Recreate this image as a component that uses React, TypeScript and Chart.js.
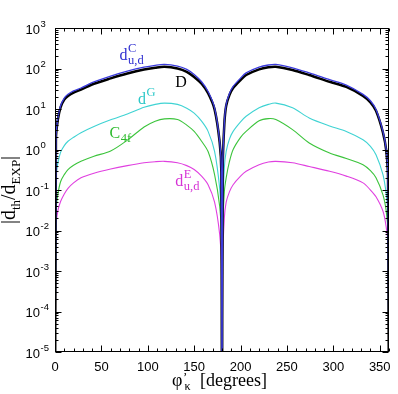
import { useEffect, useRef } from 'react';
import { Chart, registerables } from 'chart.js';

Chart.register(...registerables);

// --- data ---
const BELOW = 1e-9; // curves vanish at 0, 180 and 360 degrees

const angles = [0, 1, 3, 6, 10, 14, 20, 28, 42, 60, 78, 96, 108, 118, 132, 142, 150, 158, 165, 172, 177.5, 179.3, 180, 180.7, 182.5, 184.5, 188, 192, 200, 206, 220, 230, 238, 256, 274, 296, 314, 332, 340, 346, 353.5, 357, 359, 360];

const dCud = [BELOW, 2.0, 5.8, 12, 18.5, 23, 28, 33, 47, 65, 86, 108, 120, 126, 114, 95, 71, 47, 27, 10.7, 1.6, 0.3, BELOW, 0.3, 4.5, 13, 24, 36, 58, 78, 108, 122, 126, 104, 78, 53, 39, 23, 16, 9.7, 2.8, 1.0, 0.2, BELOW];
const Dtot = [BELOW, 1.85, 5.3, 11, 17, 21, 25.5, 30, 42, 57, 75, 94, 104, 110, 100, 83, 62, 42, 24.5, 9.8, 1.5, 0.28, BELOW, 0.28, 4.2, 12, 22, 33, 52, 69, 95, 107, 110, 92, 69, 47, 35, 21, 14.5, 9, 2.6, 0.95, 0.19, BELOW];
const dG = [BELOW, 0.2, 0.45, 0.85, 1.25, 1.6, 2.0, 2.6, 3.7, 5.4, 7.5, 11, 13, 14, 13, 10.5, 7.9, 5, 2.8, 0.9, 0.11, 0.02, BELOW, 0.02, 0.35, 0.9, 1.8, 2.8, 4.8, 6.6, 10.7, 13, 14, 10.7, 6.0, 3.8, 2.8, 1.74, 1.2, 0.74, 0.24, 0.08, 0.025, BELOW];
const C4f = [BELOW, 0.03, 0.076, 0.16, 0.24, 0.32, 0.41, 0.51, 0.68, 0.92, 1.7, 3.6, 5.0, 5.7, 5.5, 4.0, 2.8, 1.6, 0.89, 0.24, 0.04, 0.008, BELOW, 0.008, 0.09, 0.2, 0.5, 1.0, 2.0, 2.8, 5.1, 5.8, 5.5, 3.1, 1.45, 0.82, 0.6, 0.42, 0.3, 0.2, 0.076, 0.03, 0.008, BELOW];
const dEud = [BELOW, 0.012, 0.03, 0.052, 0.08, 0.11, 0.15, 0.2, 0.26, 0.33, 0.40, 0.47, 0.5, 0.51, 0.47, 0.4, 0.32, 0.22, 0.135, 0.05, 0.008, 0.0015, BELOW, 0.0015, 0.02, 0.05, 0.09, 0.135, 0.22, 0.29, 0.42, 0.49, 0.51, 0.47, 0.38, 0.29, 0.22, 0.15, 0.1, 0.068, 0.03, 0.012, 0.004, BELOW];

const xMajorTicks = [0, 50, 100, 150, 200, 250, 300, 350];
const xTickLabels = ['0', '50', '100', '150', '200', '250', '300', '350'];
const xMinorStep = 10;
const yExponents = [-5, -4, -3, -2, -1, 0, 1, 2, 3];
const yTickLabels = ['-5', '-4', '-3', '-2', '-1', '0', '1', '2', '3'];

// colours
const BLUE = '#3b3bdc';
const BLACK = '#000000';
const CYAN = '#3fd3d3';
const GREEN = '#3cc43c';
const MAGENTA = '#e040e0';

// in-plot labels: [main, sup, sub, angle, value, colour]
const curveLabels: [string, string, string, number, number, string][] = [
  ['d', 'C', 'u,d', 69.6, 158, '#2f2fd0'],
  ['D', '', '', 129.7, 35.6, '#000000'],
  ['d', 'G', '', 89.4, 13.1, '#2cc8c8'],
  ['C', '', '4f', 58.8, 1.89, '#2dbb2d'],
  ['d', 'E', 'u,d', 129.7, 0.128, '#d633d6'],
];

const SANS = '"Liberation Sans", Arial, sans-serif';
const SERIF = '"Liberation Serif", "Times New Roman", serif';

const framePlugin = {
  id: 'frameTicks',
  afterDatasetsDraw(chart: any) {
    const { ctx, chartArea: a, scales } = chart;
    const xs = scales.x;
    const ys = scales.y;
    ctx.save();
    ctx.strokeStyle = '#000';
    ctx.lineWidth = 1;
    const L = Math.round(a.left) + 0.5;
    const R = Math.round(a.right) - 0.5;
    const T = Math.round(a.top) + 0.5;
    const B = Math.round(a.bottom) - 0.5;
    ctx.strokeRect(L, T, R - L, B - T);

    ctx.beginPath();
    // x ticks (bottom and top, inward)
    for (let v = 0; v <= 360; v += xMinorStep) {
      const px = Math.round(xs.getPixelForValue(v)) + 0.5;
      const major = xMajorTicks.includes(v);
      const len = major ? 6 : 3;
      ctx.moveTo(px, B);
      ctx.lineTo(px, B - len);
      ctx.moveTo(px, T);
      ctx.lineTo(px, T + len);
    }
    // y ticks (left and right, inward)
    for (const e of yExponents) {
      const py = Math.round(ys.getPixelForValue(Math.pow(10, e))) + 0.5;
      ctx.moveTo(L, py);
      ctx.lineTo(L + 6, py);
      ctx.moveTo(R, py);
      ctx.lineTo(R - 6, py);
      if (e < 3) {
        for (let k = 2; k <= 9; k++) {
          const pm = Math.round(ys.getPixelForValue(k * Math.pow(10, e))) + 0.5;
          ctx.moveTo(L, pm);
          ctx.lineTo(L + 3, pm);
          ctx.moveTo(R, pm);
          ctx.lineTo(R - 3, pm);
        }
      }
    }
    ctx.stroke();

    ctx.fillStyle = '#000';
    // x tick labels
    ctx.font = `13px ${SANS}`;
    ctx.textAlign = 'center';
    ctx.textBaseline = 'alphabetic';
    xMajorTicks.forEach((v, i) => {
      ctx.fillText(xTickLabels[i], xs.getPixelForValue(v), 371);
    });
    // y tick labels 10^n
    yExponents.forEach((e, i) => {
      const py = ys.getPixelForValue(Math.pow(10, e));
      ctx.font = `13px ${SANS}`;
      ctx.textAlign = 'right';
      ctx.fillText('10', 40, py + 5.5);
      ctx.font = `9.5px ${SANS}`;
      ctx.textAlign = 'left';
      ctx.fillText(yTickLabels[i], 40.5, py - 1.5);
    });

    // in-plot curve labels
    ctx.textAlign = 'left';
    for (const [main, sup, sub, ang, val, col] of curveLabels) {
      const x0 = xs.getPixelForValue(ang);
      const y0 = ys.getPixelForValue(val);
      ctx.fillStyle = col;
      ctx.font = `16px ${SERIF}`;
      ctx.fillText(main, x0, y0);
      const w = ctx.measureText(main).width;
      ctx.font = `12.5px ${SERIF}`;
      if (sup) ctx.fillText(sup, x0 + w + 0.5, y0 - 8);
      if (sub) ctx.fillText(sub, x0 + w + 0.5, y0 + 4);
    }

    // x axis title: φ'_κ  [degrees]
    ctx.fillStyle = '#000';
    ctx.font = `18px ${SERIF}`;
    ctx.fillText('\u03c6', 172, 386);
    const wPhi = ctx.measureText('\u03c6').width;
    ctx.font = `13px ${SERIF}`;
    ctx.fillText('\u2019', 172 + wPhi + 0.5, 381);
    ctx.font = `12px ${SERIF}`;
    ctx.fillText('\u03ba', 172 + wPhi + 2, 390);
    ctx.font = `18px ${SERIF}`;
    ctx.fillText('[degrees]', 200, 386);

    // y axis title: |d_th/d_EXP|
    ctx.save();
    ctx.translate(15, 190);
    ctx.rotate(-Math.PI / 2);
    const parts: [string, boolean][] = [['|d', false], ['th', true], ['/d', false], ['EXP', true], ['|', false]];
    let total = 0;
    for (const [t, s] of parts) {
      ctx.font = s ? `13px ${SERIF}` : `20px ${SERIF}`;
      total += ctx.measureText(t).width;
    }
    let cx = -total / 2;
    for (const [t, s] of parts) {
      ctx.font = s ? `13px ${SERIF}` : `20px ${SERIF}`;
      ctx.fillText(t, cx, s ? 5 : 0);
      cx += ctx.measureText(t).width;
    }
    ctx.restore();

    ctx.restore();
  },
};

function series(values: number[]) {
  return angles.map((x, i) => ({ x, y: values[i] }));
}

export default function App() {
  const ref = useRef<HTMLCanvasElement | null>(null);
  useEffect(() => {
    if (!ref.current) return;
    const common = { pointRadius: 0, fill: false, tension: 0.3 };
    const chart = new Chart(ref.current, {
      type: 'line',
      data: {
        datasets: [
          { ...common, label: 'dC_ud', data: series(dCud), borderColor: BLUE, borderWidth: 1.3 },
          { ...common, label: 'D', data: series(Dtot), borderColor: BLACK, borderWidth: 2.5 },
          { ...common, label: 'dG', data: series(dG), borderColor: CYAN, borderWidth: 1.1 },
          { ...common, label: 'C4f', data: series(C4f), borderColor: GREEN, borderWidth: 1.1 },
          { ...common, label: 'dE_ud', data: series(dEud), borderColor: MAGENTA, borderWidth: 1.1 },
        ],
      },
      options: {
        animation: false,
        responsive: false,
        maintainAspectRatio: false,
        devicePixelRatio: 1,
        events: [],
        layout: { padding: { left: 55, right: 9, top: 28, bottom: 42 } },
        plugins: { legend: { display: false }, tooltip: { enabled: false } },
        scales: {
          x: { type: 'linear', min: 0, max: 360, display: false },
          y: { type: 'logarithmic', min: 1e-5, max: 1e3, display: false },
        },
      },
      plugins: [framePlugin],
    });
    return () => chart.destroy();
  }, []);
  return (
    <div style={{ position: 'fixed', left: 0, top: 0, width: 398, height: 394, background: '#fff' }}>
      <canvas ref={ref} width={398} height={394} style={{ display: 'block' }} />
    </div>
  );
}
